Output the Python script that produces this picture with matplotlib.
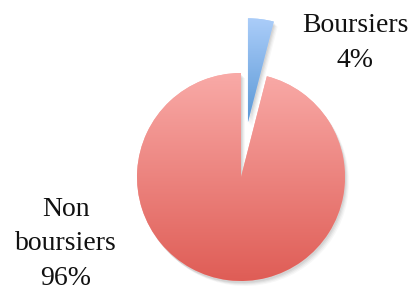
import numpy as np
import matplotlib
matplotlib.use("Agg")
import matplotlib.pyplot as plt
from matplotlib.colors import LinearSegmentedColormap

categories = ["Boursiers", "Non\nboursiers"]
values = [4, 96]
top_colors = ["#abcdf9", "#f9aaa7"]
bottom_colors = ["#5a98d6", "#df5d56"]

W, H = 412, 293
fig = plt.figure(figsize=(W / 100, H / 100), dpi=100)
ax = fig.add_axes([0, 0, 1, 1])

cx, cy, R = 241, H - 177, 104
explode = [0.53 * R, 0.0]  # pie explode is absolute in data units

# soft shadow
for k, a in enumerate([0.06, 0.05, 0.04, 0.03]):
    sh, _ = ax.pie(values, radius=R, center=(cx + 1 + k, cy - 2 - k), startangle=90,
                   counterclock=False, explode=explode, colors=["#000000"] * 2,
                   wedgeprops=dict(linewidth=0, alpha=a), frame=True)
    for w in sh:
        w.set_zorder(1)

wedges, _ = ax.pie(values, radius=R, center=(cx, cy), startangle=90,
                   counterclock=False, explode=explode, colors=top_colors,
                   wedgeprops=dict(linewidth=0), frame=True)

for w, c0, c1 in zip(wedges, top_colors, bottom_colors):
    w.set_zorder(2)
    cmap = LinearSegmentedColormap.from_list("g", [c1, c0])
    bb = w.get_path().get_extents(w.get_transform() - ax.transData)
    grad = np.linspace(0, 1, 256).reshape(-1, 1)
    im = ax.imshow(grad, cmap=cmap, origin="lower", aspect="auto",
                   extent=(bb.x0, bb.x1, bb.y0, bb.y1), zorder=3)
    im.set_clip_path(w)

ax.set_xlim(0, W)
ax.set_ylim(0, H)
ax.set_aspect("equal")
ax.axis("off")

font = dict(family=["Liberation Serif", "DejaVu Serif"], fontsize=20,
            ha="center", va="center", linespacing=1.5, color="#111111")
ax.text(355, H - 43, f"{categories[0]}\n{values[0]}%", **font)
ax.text(66, H - 244, f"{categories[1]}\n{values[1]}%", **font)

fig.savefig("out.png", dpi=100)
